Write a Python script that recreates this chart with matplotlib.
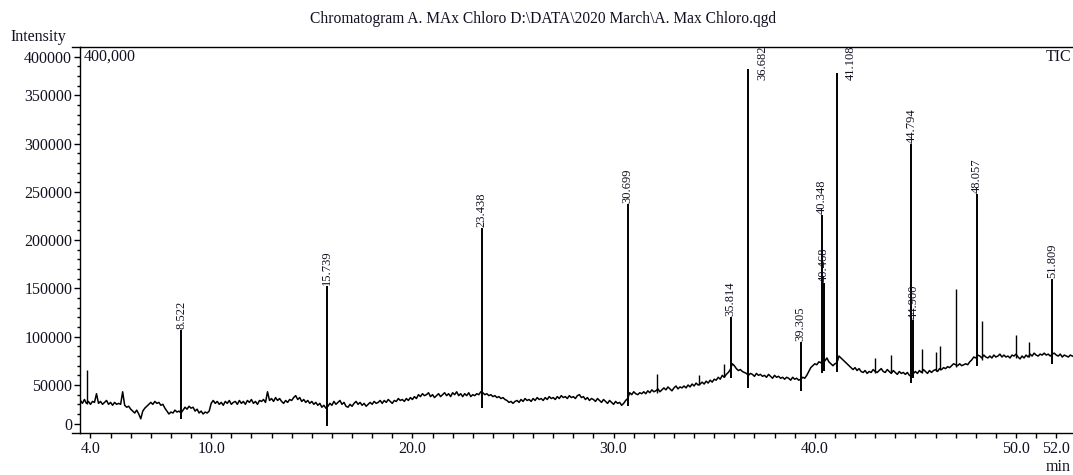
import matplotlib
matplotlib.use('Agg')
import matplotlib.pyplot as plt
from matplotlib.lines import Line2D

# detector trace, one reading per 0.1 min from 3.5 min
scan_start = 3.5
scan_step = 0.1
base_k = [  # thousands of counts
    34, 31, 35, 31, 33, 30, 33, 32, 41, 31,
    33, 30, 32, 34, 30, 32, 29, 32, 30, 31,
    30, 43, 29, 27, 28, 25, 23, 21, 24, 20,
    15, 23, 26, 28, 30, 32, 30, 33, 31, 32,
    29, 30, 26, 23, 20, 22, 21, 24, 22, 23,
    21, 24, 27, 25, 28, 26, 27, 23, 25, 21,
    23, 20, 22, 21, 23, 31, 34, 31, 33, 30,
    32, 29, 33, 31, 34, 30, 32, 33, 30, 34,
    31, 33, 30, 34, 32, 35, 31, 33, 30, 34,
    33, 35, 32, 43, 34, 36, 33, 37, 34, 36,
    33, 31, 34, 32, 35, 34, 37, 39, 35, 37,
    33, 35, 32, 34, 31, 33, 30, 32, 29, 31,
    27, 29, 26, 28, 31, 29, 33, 30, 32, 34,
    30, 32, 28, 27, 30, 28, 31, 33, 30, 32,
    29, 31, 28, 30, 32, 30, 33, 31, 32, 34,
    31, 34, 32, 35, 33, 31, 34, 33, 36, 34,
    35, 33, 36, 34, 37, 35, 38, 36, 40, 38,
    41, 39, 40, 42, 38, 40, 37, 39, 41, 38,
    40, 42, 39, 41, 38, 42, 40, 43, 39, 41,
    38, 41, 39, 42, 38, 40, 39, 41, 40, 43,
    42, 40, 41, 39, 40, 38, 39, 37, 38, 36,
    37, 35, 34, 32, 33, 31, 33, 34, 32, 35,
    33, 36, 34, 35, 33, 36, 34, 37, 35, 36,
    34, 37, 35, 38, 36, 37, 35, 38, 36, 39,
    37, 38, 36, 39, 37, 38, 36, 39, 40, 37,
    38, 35, 37, 34, 36, 35, 33, 36, 34, 32,
    35, 33, 31, 34, 32, 30, 33, 31, 32, 29,
    31, 34, 36, 42, 40, 43, 41, 40, 42, 41,
    43, 41, 44, 42, 45, 43, 44, 46, 43, 45,
    47, 45, 48, 46, 44, 47, 49, 46, 48, 47,
    49, 47, 50, 48, 51, 49, 52, 50, 51, 53,
    51, 54, 52, 55, 53, 56, 55, 58, 56, 60,
    58, 61, 63, 66, 72, 70, 67, 65, 66, 64,
    63, 62, 60, 62, 61, 59, 62, 60, 61, 59,
    60, 58, 61, 59, 57, 60, 58, 59, 57, 58,
    56, 58, 57, 55, 58, 56, 57, 55, 56, 58,
    57, 60, 64, 68, 70, 72, 71, 74, 73, 76,
    75, 78, 74, 72, 70, 72, 73, 80, 78, 76,
    74, 72, 70, 68, 66, 68, 65, 67, 64, 63,
    65, 62, 64, 63, 66, 64, 63, 65, 67, 64,
    63, 66, 64, 62, 65, 63, 61, 64, 62, 63,
    61, 63, 60, 59, 62, 64, 62, 65, 63, 66,
    64, 62, 65, 63, 65, 66, 64, 67, 66, 68,
    67, 69, 68, 70, 72, 71, 70, 72, 70, 71,
    72, 71, 74, 76, 79, 78, 81, 80, 78, 81,
    79, 78, 80, 78, 81, 79, 80, 82, 79, 81,
    79, 80, 78, 81, 80, 82, 79, 77, 80, 78,
    81, 79, 82, 80, 83, 81, 80, 82, 81, 83,
    81, 82, 80, 82, 83, 81, 80, 82, 79, 81,
    80, 79, 81, 80, 79, 81, 80, 79,
]

# labelled peaks: retention time, apex, lowest point of the spike
peak_rt = [8.522, 15.739, 23.438, 30.699, 35.814, 36.682, 39.305,
           40.348, 40.468, 41.108, 44.794, 44.900, 48.057, 51.809]
peak_top = [107000, 153000, 213000, 237000, 120500, 377500, 95000,
            226000, 155500, 373000, 300000, 117000, 247500, 159500]
peak_low = [15000, 8000, 26700, 28000, 57000, 47000, 43700,
            62000, 65000, 63000, 52000, 57000, 70000, 71600]

# unlabelled spikes
minor_rt = [3.81, 32.15, 34.25, 35.50, 43.00, 43.80, 45.35, 46.00, 46.20, 47.00, 48.30, 50.00, 50.65]
minor_top = [66000, 61000, 60000, 72000, 78000, 81000, 87000, 84000, 90000, 149000, 116000, 101700, 94800]
minor_low = [30000, 42000, 50000, 58000, 62000, 63000, 62000, 64000, 66000, 69000, 76000, 78000, 79000]

xtick_vals = [4.0, 10.0, 20.0, 30.0, 40.0, 50.0, 52.0]
ytick_labels = ['0', '50000', '100000', '150000', '200000', '250000', '300000', '350000', '400000']

base_t = [scan_start + scan_step * k for k in range(len(base_k))]
base_i = [v * 1000 for v in base_k]

serif = ['Liberation Serif', 'DejaVu Serif']
ink = '#111122'

W, H = 1073, 475
fig = plt.figure(figsize=(W / 100, H / 100), dpi=100)
ax = fig.add_axes([80 / W, (H - 433.3) / H, 1000.4 / W, (433.3 - 47) / H])

ax.plot(base_t, base_i, color='black', lw=1.1)
ax.vlines(peak_rt, peak_low, peak_top, color='black', lw=1.4)
ax.vlines(minor_rt, minor_low, minor_top, color='black', lw=1.0)

for rt, top in zip(peak_rt, peak_top):
    if top > 330000:
        # tall peaks get their label beside the line, below the frame
        ax.annotate('%.3f' % rt, (rt, 365500), xytext=(14, 0), textcoords='offset pixels',
                    rotation=90, ha='center', va='bottom', fontsize=9, family=serif, color=ink)
    else:
        ax.annotate('%.3f' % rt, (rt, top), xytext=(0, 1), textcoords='offset pixels',
                    rotation=90, ha='center', va='bottom', fontsize=9, family=serif, color=ink)

ax.set_xlim(3.48, 53.2)
ax.set_ylim(0, 400000)

ax.set_xticks(xtick_vals)
ax.set_xticklabels(['%.1f' % v for v in xtick_vals])
ax.set_xticks([v for v in range(5, 54) if v not in (10, 20, 30, 40, 50, 52)], minor=True)

# the instrument software draws the end labels a bit inside the frame
ytick_pos = [10000, 50000, 100000, 150000, 200000, 250000, 300000, 350000, 390000]
ax.set_yticks(ytick_pos)
ax.set_yticklabels(ytick_labels)
ax.set_yticks([v for v in range(20000, 390000, 10000) if v % 50000 != 0], minor=True)

ax.tick_params(axis='both', which='both', direction='out', colors='black',
               labelcolor=ink, width=1)
ax.tick_params(axis='x', which='both', length=3.6, pad=2, labelsize=11.5)
ax.tick_params(axis='y', which='major', length=4.3, pad=1.3, labelsize=11.5)
ax.tick_params(axis='y', which='minor', length=2.5)
for lab in ax.get_xticklabels() + ax.get_yticklabels():
    lab.set_family(serif)

for side in ['left', 'bottom', 'top']:
    ax.spines[side].set_linewidth(1)
ax.spines['right'].set_visible(False)

# frame lines run slightly past the y axis on the left
for yy in [(H - 433.3) / H, (H - 47) / H]:
    fig.add_artist(Line2D([72 / W, 80 / W], [yy, yy], color='black', lw=1))

fig.text(543 / W, 1 - 19 / H, 'Chromatogram A. MAx Chloro D:\\DATA\\2020 March\\A. Max Chloro.qgd',
         ha='center', va='center', fontsize=11.2, family=serif, color=ink)
fig.text(10 / W, 1 - 37 / H, 'Intensity', ha='left', va='center', fontsize=11.5,
         family=serif, color=ink)
fig.text(84 / W, 1 - 57 / H, '400,000', ha='left', va='center', fontsize=11.5,
         family=serif, color=ink)
fig.text(1071 / W, 1 - 57 / H, 'TIC', ha='right', va='center', fontsize=11.5,
         family=serif, color=ink)
fig.text(1071 / W, 1 - 467 / H, 'min', ha='right', va='center', fontsize=11.5,
         family=serif, color=ink)

fig.savefig('out.png', dpi=100)
